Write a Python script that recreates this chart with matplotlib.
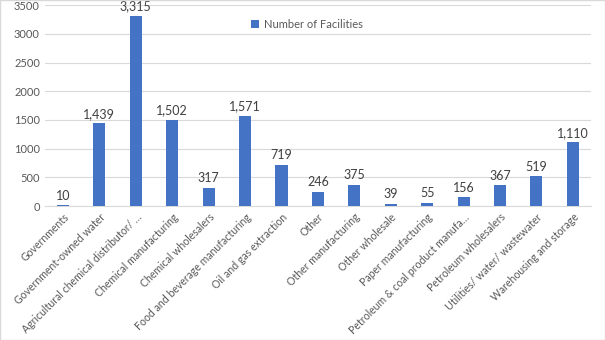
import matplotlib
matplotlib.use("Agg")
import matplotlib.pyplot as plt
from matplotlib.patches import Rectangle

categories = ["Governments", "Government-owned water", "Agricultural chemical distributor/ …",
              "Chemical manufacturing", "Chemical wholesalers", "Food and beverage manufacturing",
              "Oil and gas extraction", "Other", "Other manufacturing", "Other wholesale",
              "Paper manufacturing", "Petroleum & coal product manufa…", "Petroleum wholesalers",
              "Utilities/ water/ wastewater", "Warehousing and storage"]
values = [10, 1439, 3315, 1502, 317, 1571, 719, 246, 375, 39, 55, 156, 367, 519, 1110]
yticks = [0, 500, 1000, 1500, 2000, 2500, 3000, 3500]

plt.rcParams['font.family'] = ['Lato', 'DejaVu Sans']
fig = plt.figure(figsize=(6.05, 3.4), dpi=100)
ax = fig.add_axes([0.074, 0.394, 0.903, 0.591])
x = list(range(len(categories)))
bars = ax.bar(x, values, width=0.33, color="#4472C4", label="Number of Facilities", zorder=3)
for xi, v in zip(x, values):
    ax.text(xi, v + 60, f"{v:,}", ha="center", va="bottom", fontsize=9, color="#404040")
ax.set_xlim(-0.5, len(categories) - 0.5)
ax.set_ylim(0, 3500)
ax.set_yticks(yticks)
ax.set_yticklabels([str(t) for t in yticks], fontsize=8, color="#595959")
ax.set_xticks(x)
ax.set_xticklabels(categories, rotation=45, ha="right", rotation_mode="anchor", fontsize=7.6, color="#595959")
ax.tick_params(axis="both", length=0)
ax.tick_params(axis="x", pad=4)
ax.grid(axis="y", color="#D9D9D9", linewidth=0.8, zorder=0)
for s in ["top", "right", "left"]:
    ax.spines[s].set_visible(False)
ax.spines["bottom"].set_color("#D9D9D9")
ax.legend(loc="upper center", bbox_to_anchor=(0.48, 0.98), frameon=False, fontsize=8,
          handlelength=0.7, handleheight=0.7, labelcolor="#595959", handletextpad=0.4)
fig.patches.append(Rectangle((0, 0), 1, 1, transform=fig.transFigure, fill=False,
                             edgecolor="#D9D9D9", linewidth=1))
fig.savefig("out.png", dpi=100)
